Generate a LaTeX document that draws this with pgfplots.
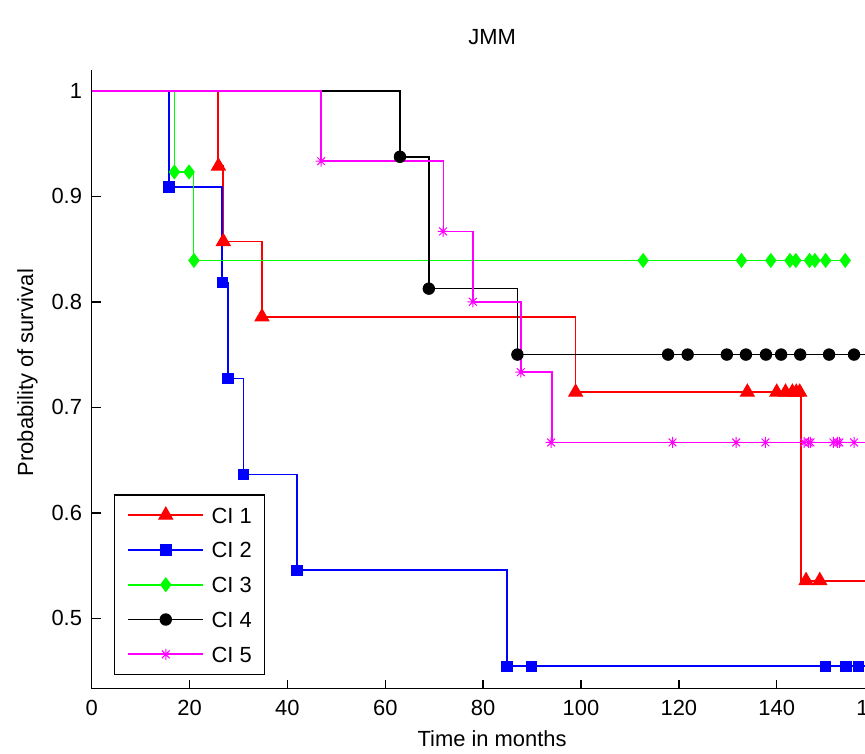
\documentclass[border=0pt]{standalone}
\usepackage{fontspec}
\setmainfont{Liberation Sans}
\usepackage{pgfplots}
\pgfplotsset{compat=1.18}

\definecolor{mlred}{rgb}{1,0,0}
\definecolor{mlblue}{rgb}{0,0,1}
\definecolor{mlgreen}{rgb}{0,1,0}
\definecolor{mlblack}{rgb}{0,0,0}
\definecolor{mlmagenta}{rgb}{1,0,1}

% eight-ray asterisk (plus and cross combined)
\pgfdeclareplotmark{mlstar}{%
  \pgfpathmoveto{\pgfqpoint{-\pgfplotmarksize}{0pt}}%
  \pgfpathlineto{\pgfqpoint{\pgfplotmarksize}{0pt}}%
  \pgfpathmoveto{\pgfqpoint{0pt}{-\pgfplotmarksize}}%
  \pgfpathlineto{\pgfqpoint{0pt}{\pgfplotmarksize}}%
  \pgfpathmoveto{\pgfqpoint{-0.7071\pgfplotmarksize}{-0.7071\pgfplotmarksize}}%
  \pgfpathlineto{\pgfqpoint{0.7071\pgfplotmarksize}{0.7071\pgfplotmarksize}}%
  \pgfpathmoveto{\pgfqpoint{-0.7071\pgfplotmarksize}{0.7071\pgfplotmarksize}}%
  \pgfpathlineto{\pgfqpoint{0.7071\pgfplotmarksize}{-0.7071\pgfplotmarksize}}%
  \pgfusepathqstroke}

\newcommand{\lblfont}{\fontsize{22}{26}\selectfont}

\pgfplotsset{
  km/.style={const plot, line width=1.7bp, forget plot},
  kmm/.style={only marks, forget plot, mark options={solid, line width=1bp}},
}

\begin{document}
\begin{tikzpicture}
\begin{axis}[
  at={(91.7bp,65.3bp)}, anchor=south west,
  x=4.893bp, y=1055bp,
  xmin=0, xmax=163, ymin=0.4333, ymax=1.0196,
  axis x line*=bottom, axis y line*=left,
  axis line style={line width=1.4bp, black},
  tick align=inside, major tick length=9bp,
  tick style={line width=1.4bp, black},
  xtick={0,20,40,60,80,100,120,140,160},
  xticklabels={0,20,40,60,80,100,120,140,160},
  ytick={0.5,0.6,0.7,0.8,0.9,1},
  yticklabels={0.5,0.6,0.7,0.8,0.9,1},
  /pgf/number format/assume math mode=true,
  tick label style={font=\lblfont},
  xticklabel style={anchor=north, inner sep=0pt, yshift=-11bp},
  yticklabel style={anchor=east, inner sep=0pt, xshift=-9.5bp},
  title={JMM},
  title style={at={(axis description cs:0.502,1.0323)}, anchor=base, font=\lblfont},
  xlabel={Time in months},
  xlabel style={at={(axis description cs:0.502,-0.0937)}, anchor=base, font=\lblfont},
  ylabel={Probability of survival},
  ylabel style={at={(axis description cs:-0.0736,0.511)}, anchor=base, font=\lblfont},
  clip=false,
  legend image code/.code={%
    \draw[mark repeat=2,mark phase=2,#1] plot coordinates {(0bp,0bp) (37.7bp,0bp) (75.4bp,0bp)};},
  legend cell align=left,
  legend style={
    at={(0.028,0.0221)}, anchor=south west,
    draw=black, line width=1.4bp, fill=white,
    font=\lblfont,
    inner xsep=12.5bp, inner ysep=12bp,
    row sep=18.8bp,
    nodes={inner sep=0pt, text height=16bp, text depth=0bp},
    /tikz/every odd column/.append style={column sep=7.3bp},
  },
]

% CI 1
\addplot[km, mlred] coordinates {
  (0,1) (25.8,0.9286) (26.8,0.8571) (34.8,0.7857) (98.9,0.7143)
  (144.9,0.5357) (163,0.5357)};
\addplot[kmm, mlred, mark=triangle*, mark size=8bp] coordinates {
  (25.9,0.9286) (26.9,0.8571) (34.8,0.7857) (98.9,0.7143)
  (134.0,0.7143) (140.0,0.7143) (141.8,0.7143) (143.2,0.7143) (144.0,0.7143) (144.7,0.7143)
  (146.0,0.5357) (148.8,0.5357)};

% CI 2
\addplot[km, mlblue] coordinates {
  (0,1) (15.8,0.9091) (26.7,0.8182) (27.9,0.7273) (31.0,0.6364)
  (42.0,0.5455) (84.9,0.4545) (163,0.4545)};
\addplot[kmm, mlblue, mark=square*, mark size=5.3bp] coordinates {
  (15.8,0.9091) (26.7,0.8182) (27.9,0.7273) (31.0,0.6364) (42.0,0.5455)
  (84.9,0.4545) (89.9,0.4545) (150.0,0.4545) (154.1,0.4545) (156.7,0.4545)};

% CI 3
\addplot[km, mlgreen] coordinates {
  (0,1) (16.9,0.9231) (20.8,0.8392) (154.0,0.8392)};
\addplot[kmm, mlgreen, mark=diamond*, mark size=6.8bp] coordinates {
  (16.9,0.9231) (19.9,0.9231) (20.9,0.8392)
  (112.7,0.8392) (132.8,0.8392) (138.8,0.8392) (142.7,0.8392) (143.9,0.8392)
  (146.7,0.8392) (147.8,0.8392) (150.0,0.8392) (154.0,0.8392)};

% CI 4
\addplot[km, mlblack] coordinates {
  (0,1) (63.0,0.9375) (68.9,0.8125) (87.0,0.75) (163,0.75)};
\addplot[kmm, mlblack, mark=*, mark size=5.7bp] coordinates {
  (63.0,0.9375) (68.9,0.8125) (87.0,0.75)
  (117.8,0.75) (121.8,0.75) (129.8,0.75) (133.7,0.75) (137.8,0.75)
  (140.9,0.75) (144.8,0.75) (150.7,0.75) (155.8,0.75)};

% CI 5
\addplot[km, mlmagenta] coordinates {
  (0,1) (46.9,0.9333) (71.9,0.8667) (77.9,0.8) (87.7,0.7333)
  (94.1,0.6667) (163,0.6667)};
\addplot[kmm, mlmagenta, mark=mlstar, mark size=5.5bp] coordinates {
  (46.9,0.9333) (71.8,0.8667) (77.9,0.8) (87.7,0.7333) (93.9,0.6667)
  (118.7,0.6667) (131.7,0.6667) (137.7,0.6667) (145.6,0.6667) (146.5,0.6667)
  (146.9,0.6667) (151.6,0.6667) (152.4,0.6667) (152.8,0.6667) (155.8,0.6667)};

\addlegendimage{mlred, line width=1.7bp, mark=triangle*, mark size=8bp, mark options={solid, line width=1bp}}
\addlegendentry{CI 1}
\addlegendimage{mlblue, line width=1.7bp, mark=square*, mark size=5.3bp, mark options={solid, line width=1bp}}
\addlegendentry{CI 2}
\addlegendimage{mlgreen, line width=1.7bp, mark=diamond*, mark size=6.8bp, mark options={solid, line width=1bp}}
\addlegendentry{CI 3}
\addlegendimage{mlblack, line width=1.7bp, mark=*, mark size=5.7bp, mark options={solid, line width=1bp}}
\addlegendentry{CI 4}
\addlegendimage{mlmagenta, line width=1.7bp, mark=mlstar, mark size=5.5bp, mark options={solid, line width=1bp}}
\addlegendentry{CI 5}
\end{axis}
\pgfresetboundingbox
\path[use as bounding box] (0bp,0bp) rectangle (865bp,754bp);
\end{tikzpicture}
\end{document}
